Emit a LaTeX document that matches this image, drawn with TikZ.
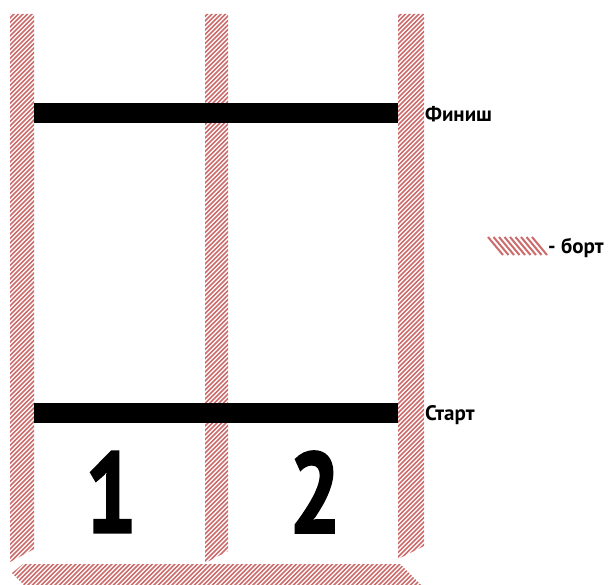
\documentclass[tikz,border=0pt]{standalone}
\usepackage{fontspec}
\setmainfont{PT Sans}
\newfontfamily\heavyfont{PT Sans}[FakeBold=2]
\definecolor{bortred}{RGB}{205,108,108}
\tikzset{
  bortline/.style={bortred, line width=1.7pt},
  marktext/.style={font=\bfseries\fontsize{21}{24}\selectfont, anchor=base west, inner sep=0pt},
  lanenum/.style={font=\heavyfont\bfseries\fontsize{114}{120}\selectfont, inner sep=0pt},
}
\begin{document}
\begin{tikzpicture}[x=1pt, y=-1pt]
  \useasboundingbox (0,0) rectangle (610,585);
  % hatched boards (борт)
  \begin{scope}
    \clip (10,14) -- (34,14) -- (34,549) -- (10,562) -- cycle
          (205,14) -- (228,14) -- (228,551) -- (205,563) -- cycle
          (398,14) -- (424,14) -- (424,546) -- (398,559) -- cycle
          (12,573) -- (23,564) -- (400,564) -- (421,585) -- (24,585) -- cycle;
    \foreach \s in {-590,-585.5,...,430} {
      \draw[bortline] (\s,600) -- ++(600,-600);
    }
  \end{scope}
  % finish and start lines
  \fill[black] (34,103) rectangle (398,123);
  \fill[black] (34,403) rectangle (398,423);
  \node[marktext] (finish) at (425,122) {Финиш};
  \node[marktext] (start) at (425,420) {Старт};
  % lane numbers
  \node[lanenum] (lane1) at (111,492) {\scalebox{0.8}[1]{1}};
  \node[lanenum] (lane2) at (315,492) {\scalebox{0.8}[1]{2}};
  % legend
  \begin{scope}
    \foreach \i in {0,...,8} {
      \draw[bortline, line width=2pt] (488+5.5*\i,237) -- ++(15,18);
    }
  \end{scope}
  \node[marktext] (legend) at (548,254) {- борт};
\end{tikzpicture}
\end{document}
